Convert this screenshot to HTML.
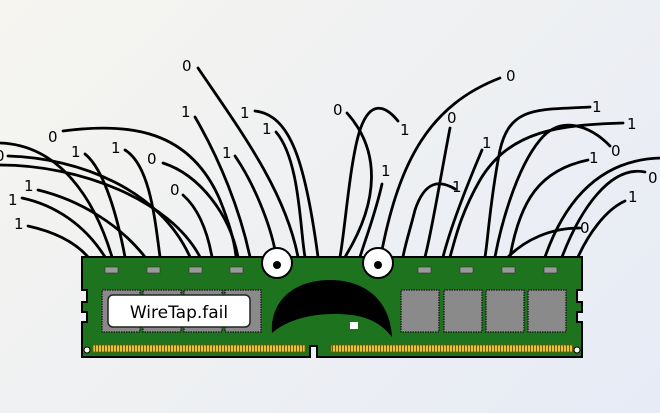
<!DOCTYPE html>
<html><head><style>
html,body{margin:0;padding:0;width:660px;height:413px;overflow:hidden}
body{background:linear-gradient(135deg,#f6f5f0 0%,#eef0f2 50%,#e6ebf6 100%)}
svg{display:block}
</style></head><body>
<svg width="660" height="413" viewBox="0 0 660 413" xmlns="http://www.w3.org/2000/svg">
<defs>
<pattern id="gold" width="3" height="8" patternUnits="userSpaceOnUse">
<rect width="3" height="8" fill="#6b5a00"/><rect width="2" height="8" fill="#e8c53a"/>
</pattern>
</defs>
<g fill="none" stroke="#000" stroke-width="2.8" stroke-linecap="round">
<path d="M28,226 C55,232 75,242 88,257"/>
<path d="M22,198 C55,205 85,225 105,257"/>
<path d="M38,190 C80,200 120,225 145,257"/>
<path d="M8,156 C80,158 160,190 190,257"/>
<path d="M0,143 C60,145 95,200 112,257"/>
<path d="M0,165 C80,165 170,200 200,257"/>
<path d="M63,131 C130,122 190,130 220,200 C230,225 235,245 236,257"/>
<path d="M85,154 C105,170 118,220 125,257"/>
<path d="M125,150 C150,165 155,220 160,257"/>
<path d="M163,163 C200,175 230,215 238,257"/>
<path d="M183,195 C200,210 208,235 212,257"/>
<path d="M195,117 C220,160 240,210 250,257"/>
<path d="M198,68 C240,130 285,190 298,257"/>
<path d="M235,156 C255,185 270,225 275,250"/>
<path d="M255,111 C290,115 305,160 318,257"/>
<path d="M276,132 C300,160 300,230 305,257"/>
<path d="M347,113 C380,150 380,200 345,257"/>
<path d="M398,121 C385,105 370,100 360,130 C350,160 345,230 340,257"/>
<path d="M382,184 C375,215 365,240 360,257"/>
<path d="M500,78 C430,105 400,160 382,250"/>
<path d="M450,128 C440,180 432,230 425,257"/>
<path d="M455,189 C440,180 425,180 415,210 C410,230 405,245 403,257"/>
<path d="M482,150 C465,190 450,230 443,257"/>
<path d="M590,107 C540,110 510,105 500,150 C490,200 488,240 485,257"/>
<path d="M623,123 C560,125 510,130 480,180 C460,215 455,240 450,257"/>
<path d="M610,146 C590,125 560,115 540,140 C515,170 500,230 495,257"/>
<path d="M588,160 C540,170 520,200 510,257"/>
<path d="M580,228 C550,228 525,240 508,257"/>
<path d="M660,158 C600,160 565,200 545,257"/>
<path d="M645,172 C610,165 580,210 562,257"/>
<path d="M625,201 C605,210 588,235 578,257"/>
</g>
<g font-family="DejaVu Sans, sans-serif" font-size="15" fill="#000">
<text x="182" y="71">0</text><text x="181" y="117">1</text><text x="240" y="118">1</text>
<text x="262" y="134">1</text><text x="222" y="158">1</text><text x="48" y="142">0</text>
<text x="-5" y="161">0</text><text x="71" y="157">1</text><text x="111" y="153">1</text>
<text x="147" y="164">0</text><text x="24" y="191">1</text><text x="8" y="205">1</text>
<text x="14" y="229">1</text><text x="170" y="195">0</text>
<text x="333" y="115">0</text><text x="400" y="135">1</text><text x="381" y="176">1</text>
<text x="506" y="81">0</text><text x="447" y="123">0</text><text x="452" y="192">1</text>
<text x="482" y="148">1</text><text x="592" y="112">1</text><text x="627" y="129">1</text>
<text x="611" y="156">0</text><text x="589" y="163">1</text><text x="648" y="183">0</text>
<text x="628" y="202">1</text><text x="580" y="233">0</text>
</g>
<path d="M82,257 H582 V290 H577 V302 H582 V312 H577 V322 H582 V357 H317 V346 H310 V357 H82 V322 H87 V312 H82 V302 H87 V290 H82 Z" fill="#1e731e" stroke="#000" stroke-width="2"/>
<rect x="93" y="345" width="212" height="7" fill="url(#gold)" stroke="#6b5a00" stroke-width="0.8"/>
<rect x="331" y="345" width="242" height="7" fill="url(#gold)" stroke="#6b5a00" stroke-width="0.8"/>
<circle cx="87" cy="350" r="3" fill="#fff" stroke="#000"/>
<circle cx="577" cy="350" r="3" fill="#fff" stroke="#000"/>
<g fill="#9a9a9a" stroke="#333" stroke-width="0.6">
<rect x="105" y="267" width="13" height="6"/><rect x="147" y="267" width="13" height="6"/>
<rect x="189" y="267" width="13" height="6"/><rect x="230" y="267" width="13" height="6"/>
<rect x="418" y="267" width="13" height="6"/><rect x="460" y="267" width="13" height="6"/>
<rect x="502" y="267" width="13" height="6"/><rect x="544" y="267" width="13" height="6"/>
</g>
<g fill="#8a8a8a" stroke="#222" stroke-width="1.5" stroke-dasharray="1.5 1">
<rect x="102" y="290" width="38" height="42"/><rect x="143" y="290" width="38" height="42"/>
<rect x="184" y="290" width="38" height="42"/><rect x="225" y="290" width="36" height="42"/>
<rect x="401" y="290" width="38" height="42"/><rect x="444" y="290" width="38" height="42"/>
<rect x="486" y="290" width="38" height="42"/><rect x="528" y="290" width="38" height="42"/>
</g>
<rect x="108" y="295" width="142" height="32" rx="5" fill="#fff" stroke="#222" stroke-width="1.5"/>
<text x="179" y="318" text-anchor="middle" font-family="DejaVu Sans, sans-serif" font-size="17" fill="#000">WireTap.fail</text>
<path d="M272,333 C270,300 295,280 330,280 C365,280 390,300 392,337 C380,322 365,314 335,314 C305,314 285,322 272,333 Z" fill="#000"/>
<rect x="350" y="322" width="8" height="7" fill="#fff"/>
<circle cx="277" cy="263" r="15" fill="#fff" stroke="#000" stroke-width="2"/>
<circle cx="277" cy="265" r="4" fill="#000"/>
<circle cx="378" cy="263" r="15" fill="#fff" stroke="#000" stroke-width="2"/>
<circle cx="378" cy="265" r="4" fill="#000"/>
</svg>
</body></html>
